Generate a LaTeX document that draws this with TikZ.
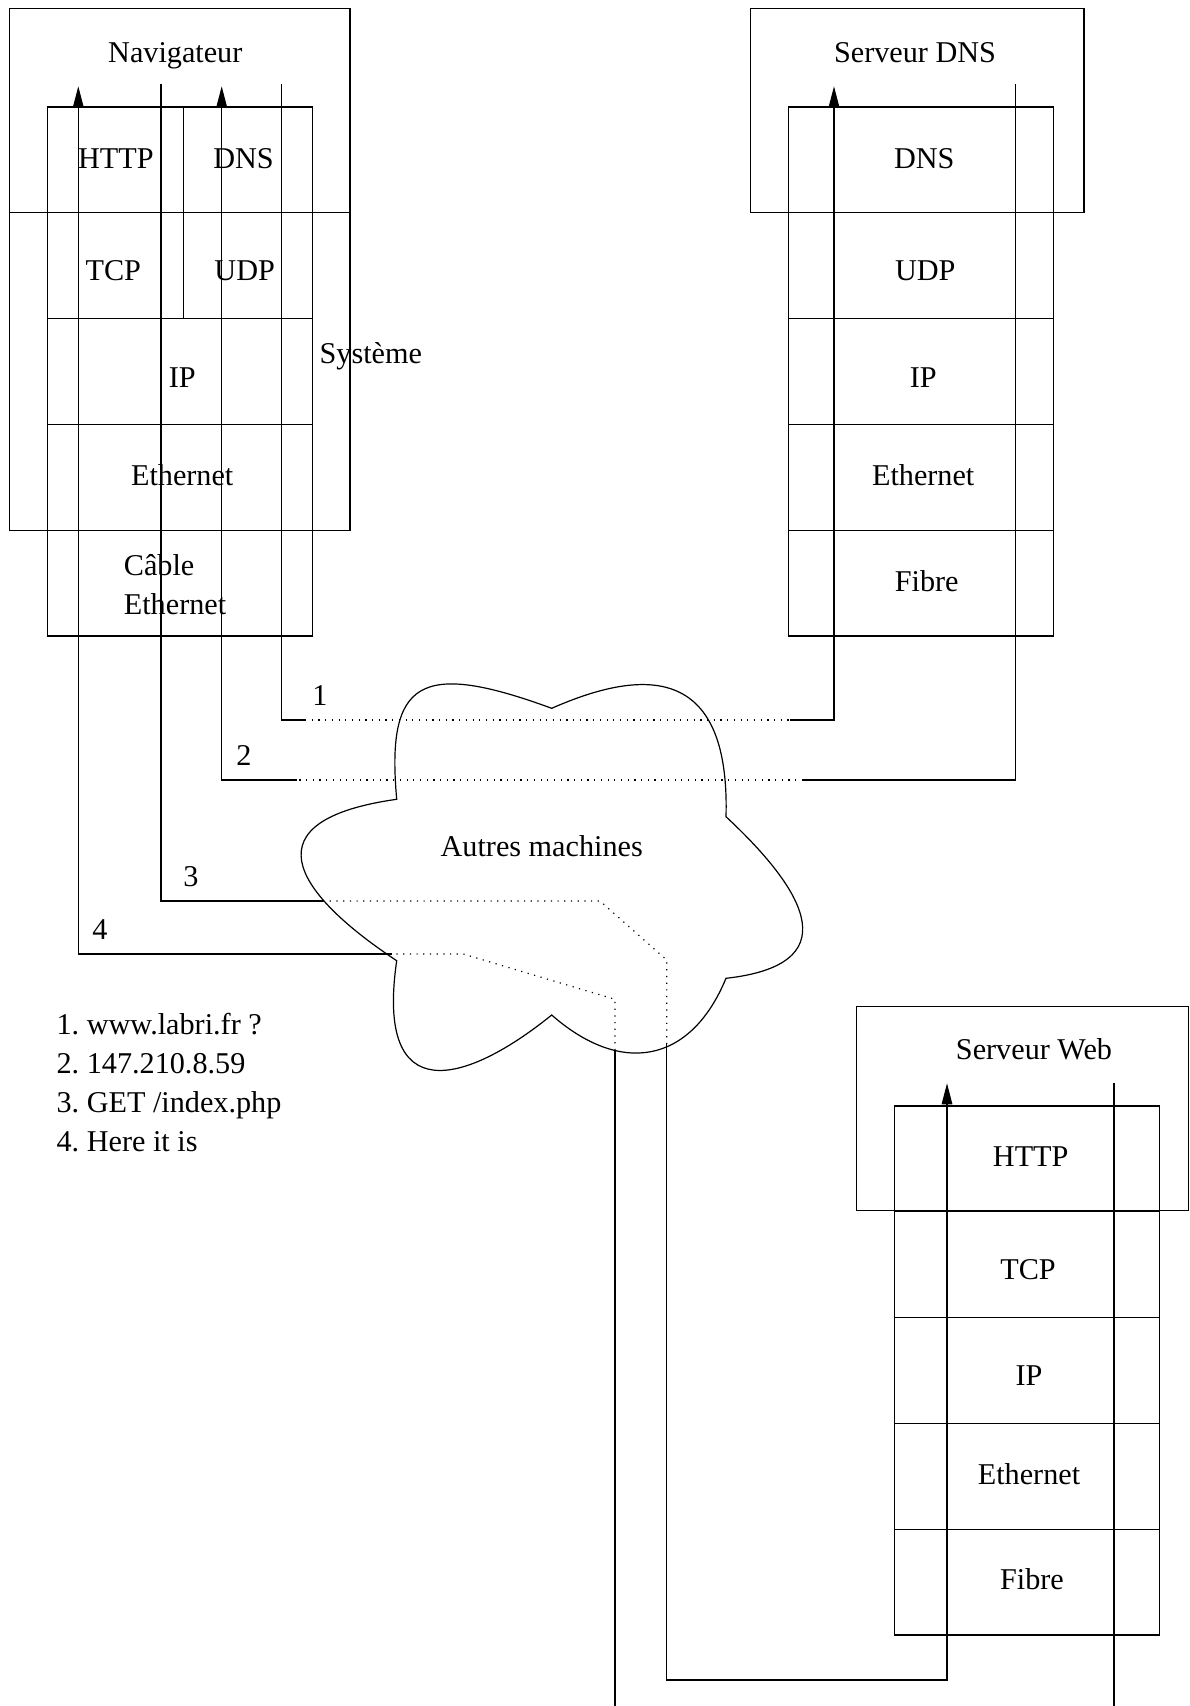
\documentclass[tikz,border=0pt]{standalone}
\usepackage{fontspec}
\setmainfont{Liberation Serif}
\usetikzlibrary{arrows.meta}

\begin{document}
\begin{tikzpicture}[
  x=0.5pt, y=-0.5pt,
  line width=0.6pt,
  every node/.style={inner sep=0pt, anchor=base, font=\fontsize{15.1}{19.4}\selectfont\frenchspacing},
  flow/.style={draw},
  recv/.style={draw, -{Triangle[length=10.5pt,width=5.3pt]}},
  inside/.style={draw, dash pattern=on 0.6pt off 2.75pt}
]
\useasboundingbox (0,0) rectangle (1189,1706);

\draw (9.7,8.4) rectangle (350,212.5);
\draw (9.7,212.5) rectangle (350,530.3);
\draw (750.7,8.4) rectangle (1084,212.5);
\draw (856.5,1006.8) rectangle (1188.5,1210.7);

\draw (47.7,107) rectangle (312.3,636);
\draw (788.7,107) rectangle (1053.3,636);
\draw (894.2,1106) rectangle (1159.4,1635);
\foreach \k in {1,...,4} {
  \draw (47.7,107+105.8*\k) -- (312.3,107+105.8*\k);
  \draw (788.7,107+105.8*\k) -- (1053.3,107+105.8*\k);
  \draw (894.2,1106+105.8*\k) -- (1159.4,1106+105.8*\k);
}
\draw (183.7,107) -- (183.7,318.6);

\node (nav) at (175.3,62.3) {Navigateur};
\node (nav-http) at (115.8,168.4) {HTTP};
\node (nav-dns) at (243.5,168.4) {DNS};
\node (nav-tcp) at (113.3,281) {TCP};
\node (nav-udp) at (244.7,281) {UDP};
\node (nav-ip) at (182.2,387) {IP};
\node (nav-eth) at (182.2,485) {Ethernet};
\node[anchor=base west, align=left] (nav-cable) at (123.3,614.5) {Câble\\Ethernet};
\node (sys) at (370.8,364) {Système};

\node (dns) at (915,62.3) {Serveur DNS};
\node (dns-dns) at (924.2,168.4) {DNS};
\node (dns-udp) at (925.3,281) {UDP};
\node (dns-ip) at (923.3,387.2) {IP};
\node (dns-eth) at (923.2,485.3) {Ethernet};
\node (dns-fibre) at (926.7,591.3) {Fibre};

\node (web) at (1034,1059.9) {Serveur Web};
\node (web-http) at (1030.7,1166.6) {HTTP};
\node (web-tcp) at (1028,1279.2) {TCP};
\node (web-ip) at (1029,1385.9) {IP};
\node (web-eth) at (1029,1484) {Ethernet};
\node (web-fibre) at (1032,1589) {Fibre};

\coordinate (nav-in4) at (78.3,86.3);
\coordinate (nav-out3) at (161,84);
\coordinate (nav-in2) at (221.7,86.3);
\coordinate (nav-out1) at (281.7,84);
\coordinate (dns-in1) at (834,86.3);
\coordinate (dns-out2) at (1015.5,84);
\coordinate (web-in3) at (947,1083.3);
\coordinate (web-out4) at (1114,1083);
\coordinate (web-end4) at (1114,1706);

\coordinate (c1a) at (305,720);
\coordinate (c1b) at (790,720);
\coordinate (c2a) at (297,780);
\coordinate (c2b) at (803,780);
\coordinate (c3a) at (323,901);
\coordinate (c3b) at (666.7,1044.3);
\coordinate (c4a) at (391.7,954);
\coordinate (c4b) at (615,1050);
\coordinate (c4end) at (615,1706);

\draw (396.7,799.3) .. controls (386,680) and (420,660) .. (551.7,708.3)
  .. controls (650,665) and (730,670) .. (726,816.7)
  .. controls (810,895) and (845,965) .. (726,978.3)
  .. controls (690,1065) and (620,1075) .. (551.7,1015)
  .. controls (465,1085) and (375,1110) .. (396.7,960.7)
  .. controls (290,890) and (250,820) .. cycle;
\node (autres) at (541.7,856) {Autres machines};

\draw[flow] (nav-out1) |- (c1a);
\draw[inside] (c1a) -- (c1b);
\draw[recv] (c1b) -| (dns-in1);

\draw[flow] (dns-out2) |- (c2b);
\draw[inside] (c2b) -- (c2a);
\draw[recv] (c2a) -| (nav-in2);

\draw[flow] (nav-out3) |- (c3a);
\draw[inside] (c3a) -- (600,901) -- (666.7,960) -- (c3b);
\draw[recv] (c3b) -- ++(0,635.7) -| (web-in3);

\draw[flow] (web-out4) -- (web-end4);
\draw[flow] (c4end) -- (c4b);
\draw[inside] (c4b) -- (615,999.3) -- (463.3,954) -- (c4a);
\draw[recv] (c4a) -| (nav-in4);

\node (m1) at (320,705) {1};
\node (m2) at (244,765) {2};
\node (m3) at (191,886) {3};
\node (m4) at (100,939.3) {4};

\node[anchor=base west, align=left] (legend) at (56,1151)
  {1. www.labri.fr ?\\2. 147.210.8.59\\3. GET /index.php\\4. Here it is};
\end{tikzpicture}
\end{document}
